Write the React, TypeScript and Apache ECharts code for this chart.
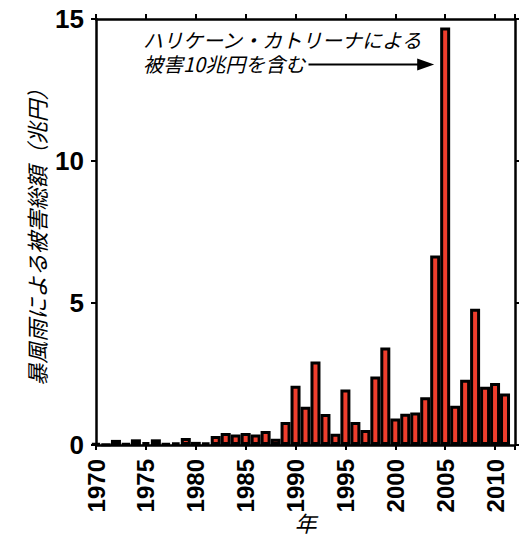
import React, { useEffect, useRef } from "react";
import * as echarts from "echarts";

const years: number[] = [
  1970, 1971, 1972, 1973, 1974, 1975, 1976, 1977, 1978, 1979,
  1980, 1981, 1982, 1983, 1984, 1985, 1986, 1987, 1988, 1989,
  1990, 1991, 1992, 1993, 1994, 1995, 1996, 1997, 1998, 1999,
  2000, 2001, 2002, 2003, 2004, 2005, 2006, 2007, 2008, 2009,
  2010, 2011,
];
const damage: number[] = [
  0.06, 0.02, 0.18, 0.05, 0.2, 0.1, 0.2, 0.05, 0.08, 0.25,
  0.11, 0.08, 0.32, 0.42, 0.37, 0.42, 0.37, 0.49, 0.22, 0.81,
  2.09, 1.35, 2.94, 1.09, 0.4, 1.95, 0.81, 0.53, 2.41, 3.43,
  0.93, 1.1, 1.14, 1.68, 6.67, 14.7, 1.38, 2.3, 4.8, 2.05,
  2.18, 1.81,
];
const yTicks: number[] = [0, 5, 10, 15];
const xTickStep = 5;

const yName = "暴風雨による被害総額（兆円）";
const xName = "年";
const noteLine1 = "ハリケーン・カトリーナによる";
const noteLine2 = "被害10兆円を含む";
const arrowFrom: [number, number] = [1991.3, 13.4];
const arrowTo: [number, number] = [2003.9, 13.4];

const LATIN = "Liberation Sans";
const CJK = "Noto Sans CJK JP";

export default function App() {
  const ref = useRef<HTMLDivElement>(null);
  useEffect(() => {
    if (!ref.current) return;
    const chart = echarts.init(ref.current, null, { renderer: "svg" });
    const axisLine = { show: true, onZero: false, lineStyle: { color: "#000", width: 2.5 } };
    const axisTick = { show: true, inside: false, length: 5, lineStyle: { color: "#000", width: 2 } };
    const noteStyle = {
      fill: "#000",
      fontSize: 20,
      lineHeight: 20,
      fontStyle: "italic",
      fontFamily: CJK,
    };
    chart.setOption({
      animation: false,
      backgroundColor: "#fff",
      grid: {
        left: 96,
        right: 4,
        top: 19,
        bottom: 97,
        containLabel: false,
        outerBoundsMode: "none",
      },
      xAxis: [
        {
          type: "value",
          position: "bottom",
          min: 1970,
          max: 2012,
          interval: xTickStep,
          axisLine,
          axisTick,
          splitLine: { show: false },
          axisLabel: {
            rotate: 90,
            margin: 14,
            color: "#000",
            fontSize: 24,
            fontWeight: "bold",
            fontFamily: LATIN,
            formatter: (v: number) => (v <= 2010 ? String(v) : ""),
          },
          name: xName,
          nameLocation: "middle",
          nameGap: 66,
          nameMoveOverlap: false,
          nameTextStyle: { color: "#000", fontSize: 22, fontStyle: "italic", fontFamily: CJK },
        },
        {
          type: "value",
          position: "top",
          min: 1970,
          max: 2012,
          interval: xTickStep,
          axisLine,
          axisTick,
          splitLine: { show: false },
          axisLabel: { show: false },
        },
      ],
      yAxis: [
        {
          type: "value",
          position: "left",
          min: yTicks[0],
          max: yTicks[yTicks.length - 1],
          interval: yTicks[1] - yTicks[0],
          axisLine,
          axisTick,
          splitLine: { show: false },
          axisLabel: {
            margin: 12,
            color: "#000",
            fontSize: 26,
            fontWeight: "bold",
            fontFamily: LATIN,
          },
          name: yName,
          nameLocation: "middle",
          nameRotate: 90,
          nameGap: 49,
          nameMoveOverlap: false,
          nameTextStyle: { color: "#000000", fontSize: 22, fontStyle: "italic", fontFamily: CJK },
        },
        {
          type: "value",
          position: "right",
          min: yTicks[0],
          max: yTicks[yTicks.length - 1],
          interval: yTicks[1] - yTicks[0],
          axisLine,
          axisTick,
          splitLine: { show: false },
          axisLabel: { show: false },
        },
      ],
      series: [
        {
          type: "bar",
          xAxisIndex: 0,
          yAxisIndex: 0,
          clip: false,
          barWidth: 10,
          data: years.map((y, i) => [y, damage[i]]),
          itemStyle: { color: "#ef3e2d", borderColor: "#000", borderWidth: 3 },
        },
      ],
    });
    const p0 = chart.convertToPixel({ gridIndex: 0 }, arrowFrom) as number[];
    const p1 = chart.convertToPixel({ gridIndex: 0 }, arrowTo) as number[];
    const headLen = 17;
    const headHalf = 6;
    chart.setOption({
      graphic: [
        { type: "text", left: 143, top: 29, style: { ...noteStyle, text: noteLine1 } },
        { type: "text", left: 143, top: 53, style: { ...noteStyle, text: noteLine2 } },
        {
          type: "line",
          shape: { x1: p0[0], y1: p0[1], x2: p1[0] - headLen + 2, y2: p1[1] },
          style: { stroke: "#000", lineWidth: 2 },
        },
        {
          type: "polygon",
          shape: {
            points: [
              [p1[0], p1[1]],
              [p1[0] - headLen, p1[1] - headHalf],
              [p1[0] - headLen, p1[1] + headHalf],
            ],
          },
          style: { fill: "#000" },
        },
      ],
    });
    return () => chart.dispose();
  }, []);
  return (
    <div
      ref={ref}
      style={{ position: "absolute", left: 0, top: 0, width: 519, height: 542 }}
    />
  );
}
